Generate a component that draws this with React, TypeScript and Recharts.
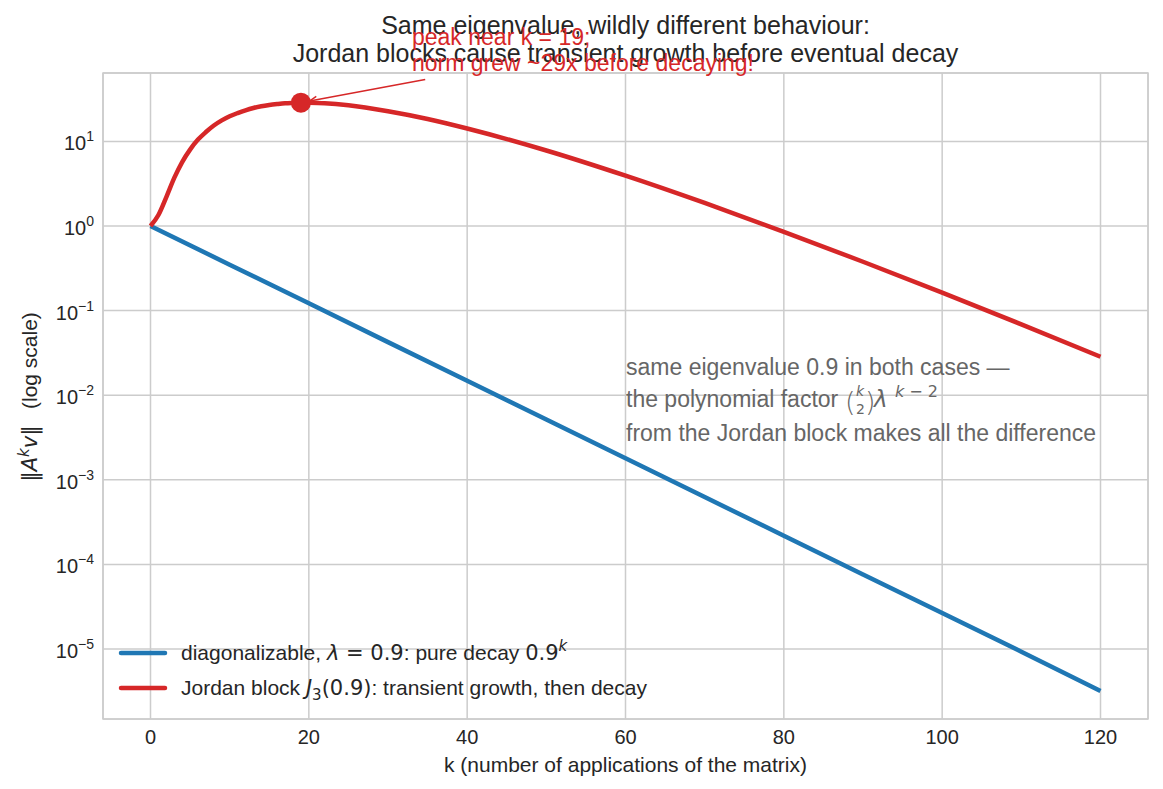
import React from 'react';
import { LineChart, Line, XAxis, YAxis, CartesianGrid, ReferenceDot, ReferenceLine } from 'recharts';

// diagonalizable case
const kBlue = [0, 10, 20, 30, 40, 50, 60, 70, 80, 90, 100, 110, 120];
const normBlue = [1, 0.349, 0.122, 0.0424, 0.0148, 0.00515, 0.0018, 0.000626, 0.000218, 7.6e-5, 2.66e-5, 9.3e-6, 3.2e-6];

// Jordan block case
const kRed = [0, 1, 2, 3, 4, 5, 6, 7, 8, 9, 10, 11, 12, 13, 14, 15, 16, 17, 18, 19, 20, 22, 25, 30, 35, 40, 50, 60, 70, 80, 90, 100, 110, 120];
const normRed = [1, 1.35, 2.2, 3.7, 5.7, 8.0, 10.5, 12.9, 15.4, 17.7, 19.8, 21.6, 23.3, 24.8, 26.0, 26.9, 27.6, 28.2, 28.5, 28.7, 28.6, 28.2, 26.7, 22.7, 18.4, 14.2, 7.8, 3.93, 1.87, 0.854, 0.378, 0.163, 0.0688, 0.0285];

const xTicks = [0, 20, 40, 60, 80, 100, 120];
const yTicks = [1e-5, 1e-4, 1e-3, 1e-2, 1e-1, 1, 10];

const peakK = 19;
const peakNorm = 28.7;
const arrowTail = { x: 34.7, y: 54 };

const blueData = kBlue.map((k, i) => ({ k, v: normBlue[i] }));
const redData = kRed.map((k, i) => ({ k, v: normRed[i] }));

const BLUE = '#1f77b4';
const RED = '#d62728';
const TXT = '#262626';
const SANS = '"Liberation Sans", Arial, sans-serif';
const MATH = '"DejaVu Sans", sans-serif';

const XTick = (p: any) => (
  <text x={p.x} y={p.y + 17} textAnchor="middle" fontSize={20} fill={TXT} fontFamily={SANS}>
    {p.payload.value}
  </text>
);

const YTick = (p: any) => {
  const e = Math.round(Math.log10(p.payload.value));
  return (
    <text x={p.x - 1} y={p.y + 9} textAnchor="end" fontSize={20} fill={TXT} fontFamily={SANS}>
      <tspan>10</tspan>
      <tspan dy={-9} fontSize={14}>{e < 0 ? '\u2212' + -e : String(e)}</tspan>
    </text>
  );
};

const Arrow = (p: any) => {
  const { x1, y1, x2, y2 } = p;
  const dx = x2 - x1;
  const dy = y2 - y1;
  const len = Math.sqrt(dx * dx + dy * dy);
  const ux = dx / len;
  const uy = dy / len;
  const sx = x1 + ux * 9;
  const sy = y1 + uy * 9;
  const h = 8;
  const a = (25 * Math.PI) / 180;
  const rot = (c: number, s: number) => ({ x: ux * c - uy * s, y: uy * c + ux * s });
  const r1 = rot(Math.cos(a), Math.sin(a));
  const r2 = rot(Math.cos(a), -Math.sin(a));
  return (
    <g stroke={RED} strokeWidth={1.5} fill="none">
      <line x1={sx} y1={sy} x2={x2} y2={y2} />
      <polyline points={`${sx + r1.x * h},${sy + r1.y * h} ${sx},${sy} ${sx + r2.x * h},${sy + r2.y * h}`} />
    </g>
  );
};

const Overlay = () => (
  <svg
    width={1163}
    height={789}
    style={{ position: 'absolute', left: 0, top: 0, pointerEvents: 'none', whiteSpace: 'pre' }}
    fontFamily={SANS}
    xmlSpace="preserve"
  >
    <rect x={103} y={73} width={1045} height={646} fill="none" stroke="#cccccc" strokeWidth={1.5} />

    {/* title */}
    <text x={625.5} y={34} textAnchor="middle" fontSize={25} fill={TXT}>
      Same eigenvalue, wildly different behaviour:
    </text>
    <text x={625.5} y={62} textAnchor="middle" fontSize={25} fill={TXT}>
      Jordan blocks cause transient growth before eventual decay
    </text>

    {/* peak annotation */}
    <text x={412} y={45} fontSize={23} fill={RED}>peak near k = 19;</text>
    <text x={412} y={71} fontSize={23} fill={RED}>norm grew ~29x before decaying!</text>

    {/* note */}
    <g fill="#666666" fontSize={23}>
      <text x={626} y={375}>same eigenvalue 0.9 in both cases —</text>
      <text x={626} y={407}>the polynomial factor</text>
      <text x={845} y={411} fontFamily={MATH} fontSize={27} fontWeight={200}>(</text>
      <text x={856} y={396} fontFamily={MATH} fontSize={14} fontStyle="italic">k</text>
      <text x={856} y={414} fontFamily={MATH} fontSize={14}>2</text>
      <text x={865} y={411} fontFamily={MATH} fontSize={27} fontWeight={200}>)</text>
      <text x={874} y={407} fontFamily={MATH} fontStyle="italic">λ</text>
      <text x={895} y={397} fontFamily={MATH} fontSize={16}>
        <tspan fontStyle="italic">k</tspan>
        <tspan>{' \u2212 2'}</tspan>
      </text>
      <text x={626} y={441}>from the Jordan block makes all the difference</text>
    </g>

    {/* legend */}
    <line x1={121} y1={653} x2={165} y2={653} stroke={BLUE} strokeWidth={4.5} strokeLinecap="round" />
    <line x1={121} y1={688} x2={165} y2={688} stroke={RED} strokeWidth={4.5} strokeLinecap="round" />
    <text x={181} y={660} fontSize={21} fill={TXT}>
      <tspan>{'diagonalizable, '}</tspan>
      <tspan fontFamily={MATH} fontStyle="italic">λ</tspan>
      <tspan fontFamily={MATH}>{' = 0.9'}</tspan>
      <tspan>{': pure decay '}</tspan>
      <tspan fontFamily={MATH}>0.9</tspan>
      <tspan fontFamily={MATH} fontStyle="italic" fontSize={15} dy={-9}>k</tspan>
    </text>
    <text x={181} y={695} fontSize={21} fill={TXT}>
      <tspan>{'Jordan block '}</tspan>
      <tspan fontFamily={MATH} fontStyle="italic">J</tspan>
      <tspan fontFamily={MATH} fontSize={15} dy={5}>3</tspan>
      <tspan fontFamily={MATH} dy={-5}>(0.9)</tspan>
      <tspan>{': transient growth, then decay'}</tspan>
    </text>

    {/* axis labels */}
    <text x={625.5} y={772} textAnchor="middle" fontSize={21} fill={TXT}>
      k (number of applications of the matrix)
    </text>
    <text x={37} y={397} textAnchor="middle" fontSize={21} fill={TXT} transform="rotate(-90, 37, 397)">
      <tspan fontFamily={MATH}>‖</tspan>
      <tspan fontFamily={MATH} fontStyle="italic">A</tspan>
      <tspan fontFamily={MATH} fontStyle="italic" fontSize={15} dy={-8}>k</tspan>
      <tspan fontFamily={MATH} fontStyle="italic" dy={8}>v</tspan>
      <tspan fontFamily={MATH}>‖</tspan>
      <tspan>{'\u2002 (log scale)'}</tspan>
    </text>
  </svg>
);

const App = () => {
  return (
    <div style={{ position: 'absolute', left: 0, top: 0, width: 1163, height: 789, background: '#fff' }}>
      <LineChart width={1163} height={789} margin={{ top: 73, right: 15, bottom: 0, left: 0 }}>
        <CartesianGrid stroke="#cccccc" strokeWidth={1.5} />
        <XAxis
          type="number"
          dataKey="k"
          domain={[-6, 126]}
          ticks={xTicks}
          interval={0}
          axisLine={false}
          tickLine={false}
          height={70}
          tick={XTick}
          allowDataOverflow
        />
        <YAxis
          type="number"
          dataKey="v"
          scale="log"
          domain={[1.49e-6, 64.3]}
          ticks={yTicks}
          interval={0}
          axisLine={false}
          tickLine={false}
          width={103}
          tick={YTick}
          allowDataOverflow
        />
        <Line data={blueData} dataKey="v" type="linear" stroke={BLUE} strokeWidth={4.5} dot={false} isAnimationActive={false} />
        <Line data={redData} dataKey="v" type="monotone" stroke={RED} strokeWidth={4.5} dot={false} isAnimationActive={false} />
        <ReferenceLine
          segment={[{ x: peakK, y: peakNorm }, arrowTail]}
          ifOverflow="visible"
          shape={Arrow}
        />
        <ReferenceDot x={peakK} y={peakNorm} r={10} fill={RED} stroke="none" ifOverflow="visible" />
      </LineChart>
      <Overlay />
    </div>
  );
};

export default App;
